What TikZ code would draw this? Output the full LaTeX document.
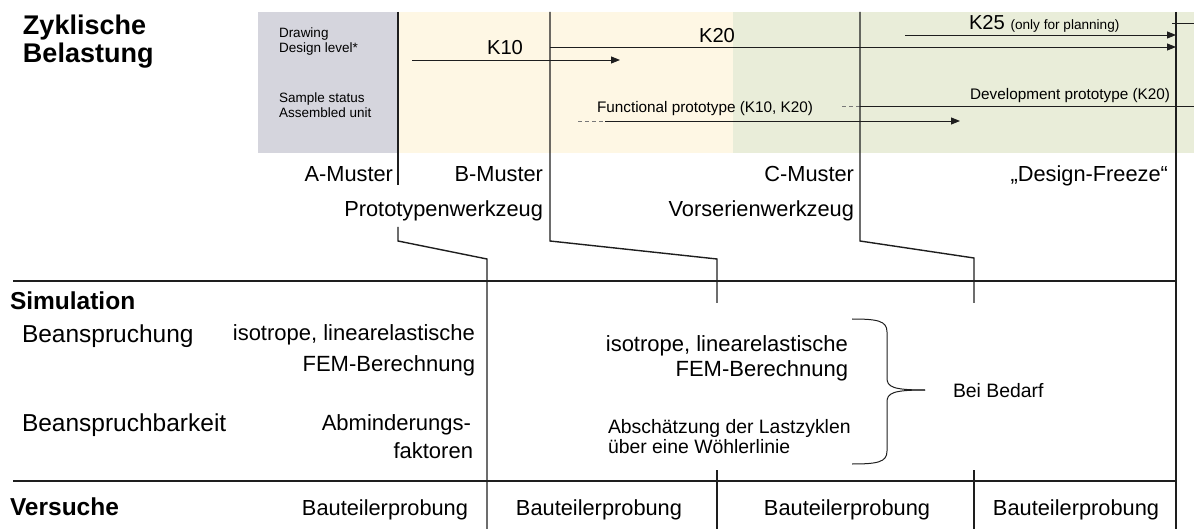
\documentclass[tikz,border=0pt]{standalone}
\usepackage{fontspec}
\setmainfont{Liberation Sans}
\usetikzlibrary{arrows.meta}
\definecolor{grayfill}{RGB}{213,213,221}
\definecolor{yellowfill}{RGB}{254,247,228}
\definecolor{greenfill}{RGB}{233,237,217}
\definecolor{linecol}{RGB}{30,30,30}
\definecolor{dashcol}{RGB}{120,120,120}
\tikzset{
  txt/.style={inner sep=0pt, outer sep=0pt, text=black},
  headtxt/.style={txt, font=\fontsize{27}{30}\selectfont\bfseries},
  sectxt/.style={txt, font=\fontsize{24.5}{28}\selectfont\bfseries},
  rowtxt/.style={txt, font=\fontsize{24.5}{28}\selectfont},
  celltxt/.style={txt, font=\fontsize{22}{26}\selectfont},
  midtxt/.style={txt, font=\fontsize{19.4}{22}\selectfont},
  probtxt/.style={txt, font=\fontsize{21.8}{26}\selectfont},
  mustxt/.style={txt, font=\fontsize{21.8}{26}\selectfont},
  ktxt/.style={txt, font=\fontsize{20.2}{24}\selectfont},
  prototxt/.style={txt, font=\fontsize{15.3}{18}\selectfont},
  smalltxt/.style={txt, font=\fontsize{13.5}{16}\selectfont},
  phase/.style={line width=1.4pt, draw=linecol},
  sepline/.style={line width=2.8pt, draw=linecol},
  arr/.style={line width=0.9pt, draw=linecol, -{Triangle[length=9pt,width=7pt]}},
  thin/.style={line width=0.9pt, draw=linecol},
  dashpart/.style={line width=0.9pt, draw=dashcol, dash pattern=on 4pt off 3pt},
}
\newcommand{\smallparen}{\fontsize{13.6}{16}\selectfont}
\begin{document}
\begin{tikzpicture}[x=1pt,y=-1pt]
\useasboundingbox (0,0) rectangle (1194,529);

% coloured background bands
\fill[grayfill] (258,12) rectangle (398,153);
\fill[yellowfill] (398,12) rectangle (733,153);
\fill[greenfill] (733,12) rectangle (1194,153);

% coordinates of the phase lines
\coordinate (A0) at (398,12);
\coordinate (A1) at (398,185);
\coordinate (A2) at (398,227);
\coordinate (A3) at (398,241);
\coordinate (A4) at (487,259);
\coordinate (A5) at (487,529);
\coordinate (B0) at (550,12);
\coordinate (B3) at (550,241);
\coordinate (B4) at (717,259);
\coordinate (B5) at (717,303);
\coordinate (B6) at (717,470);
\coordinate (B7) at (717,529);
\coordinate (C0) at (860,12);
\coordinate (C3) at (860,241);
\coordinate (C4) at (974,258);
\coordinate (C5) at (974,303);
\coordinate (C6) at (974,470);
\coordinate (C7) at (974,529);
\coordinate (R0) at (1176,12);
\coordinate (R1) at (1176,529);
\coordinate (T0) at (1172,23);
\coordinate (T1) at (1194,23);
\coordinate (L1a) at (13,281);
\coordinate (L1b) at (1176,281);
\coordinate (L2a) at (13,481);
\coordinate (L2b) at (1176,481);

% arrows in the top band
\coordinate (k10s) at (412,60);
\coordinate (k10e) at (620,60);
\coordinate (k20s) at (550,47);
\coordinate (k20e) at (1176,47);
\coordinate (k25s) at (905,35);
\coordinate (k25e) at (1176,35);
\coordinate (fp0) at (578,121);
\coordinate (fp1) at (605,121);
\coordinate (fp2) at (960,121);
\coordinate (dp0) at (842,106);
\coordinate (dp1) at (860,106);
\coordinate (dp2) at (1194,106);

\draw[arr] (k10s) -- (k10e);
\draw[arr] (k20s) -- (k20e);
\draw[arr] (k25s) -- (k25e);
\draw[dashpart] (fp0) -- (fp1);
\draw[arr] (fp1) -- (fp2);
\draw[dashpart] (dp0) -- (dp1);
\draw[thin] (dp1) -- (dp2);
\draw[thin] (T0) -- (T1);

% phase lines
\draw[phase] (A0) -- (A1);
\draw[phase] (A2) -- (A3) -- (A4) -- (A5);
\draw[phase] (B0) -- (B3) -- (B4) -- (B5);
\draw[phase] (B6) -- (B7);
\draw[phase] (C0) -- (C3) -- (C4) -- (C5);
\draw[phase] (C6) -- (C7);
\draw[phase] (R0) -- (R1);

% separators
\draw[sepline] (L1a) -- (L1b);
\draw[sepline] (L2a) -- (L2b);

% headings
\node[headtxt, anchor=base west] (zy1) at (23,35) {Zyklische};
\node[headtxt, anchor=base west] (zy2) at (23,63) {Belastung};

% top band texts
\node[smalltxt, anchor=base west] (dr1) at (279,38) {Drawing};
\node[smalltxt, anchor=base west] (dr2) at (279,53) {Design level*};
\node[smalltxt, anchor=base west] (ss1) at (279,103) {Sample status};
\node[smalltxt, anchor=base west] (ss2) at (279,118) {Assembled unit};
\node[ktxt, anchor=base] (k10) at (505,55) {K10};
\node[ktxt, anchor=base] (k20) at (717,43) {K20};
\node[ktxt, anchor=base west] (k25) at (969,30) {K25 {\smallparen(only for planning)}};
\node[prototxt, anchor=base west] (func) at (597,113) {Functional prototype (K10, K20)};
\node[prototxt, anchor=base east] (dev) at (1170,100) {Development prototype (K20)};

% milestone labels
\node[mustxt, anchor=base east] (am) at (393,182) {A-Muster};
\node[mustxt, anchor=base east] (bm) at (543,182) {B-Muster};
\node[mustxt, anchor=base east] (cm) at (854,182) {C-Muster};
\node[mustxt, anchor=base east] (df) at (1168,182) {„Design-Freeze“};
\node[mustxt, anchor=base east] (pw) at (543,217) {Prototypenwerkzeug};
\node[mustxt, anchor=base east] (vw) at (854,217) {Vorserienwerkzeug};

% simulation block
\node[sectxt, anchor=base west] (sim) at (10,310) {Simulation};
\node[rowtxt, anchor=base west] (bean) at (22,342) {Beanspruchung};
\node[rowtxt, anchor=base west] (beanb) at (22,431) {Beanspruchbarkeit};
\node[celltxt, anchor=base east] (iso1) at (475,341) {isotrope, linearelastische};
\node[celltxt, anchor=base east] (fem1) at (475,371) {FEM-Berechnung};
\node[celltxt, anchor=base east] (abm1) at (471,430) {Abminderungs-};
\node[celltxt, anchor=base east] (abm2) at (473,458) {faktoren};
\node[celltxt, anchor=base east] (iso2) at (848,351) {isotrope, linearelastische};
\node[celltxt, anchor=base east] (fem2) at (848,376) {FEM-Berechnung};
\node[midtxt, anchor=base west] (abs1) at (608,433) {Abschätzung der Lastzyklen};
\node[midtxt, anchor=base west] (abs2) at (608,453) {über eine Wöhlerlinie};
\node[midtxt, anchor=base west] (bed) at (953,397) {Bei Bedarf};

% curly brace
\coordinate (brT) at (852,319);
\coordinate (brB) at (852,464);
\coordinate (brTip) at (925,390);
\draw[thin, line width=1pt] (brT) .. controls (878,319) and (887,321) .. (887,332)
  -- (887,378) .. controls (887,387) and (893,390) .. (brTip);
\draw[thin, line width=1pt] (brB) .. controls (878,464) and (887,462) .. (887,451)
  -- (887,402) .. controls (887,393) and (893,390) .. (brTip);

% tests row
\node[sectxt, anchor=base west] (ver) at (10,515) {Versuche};
\node[probtxt, anchor=base] (bp1) at (385,515) {Bauteilerprobung};
\node[probtxt, anchor=base] (bp2) at (599,515) {Bauteilerprobung};
\node[probtxt, anchor=base] (bp3) at (847,515) {Bauteilerprobung};
\node[probtxt, anchor=base] (bp4) at (1076,515) {Bauteilerprobung};
\end{tikzpicture}
\end{document}
